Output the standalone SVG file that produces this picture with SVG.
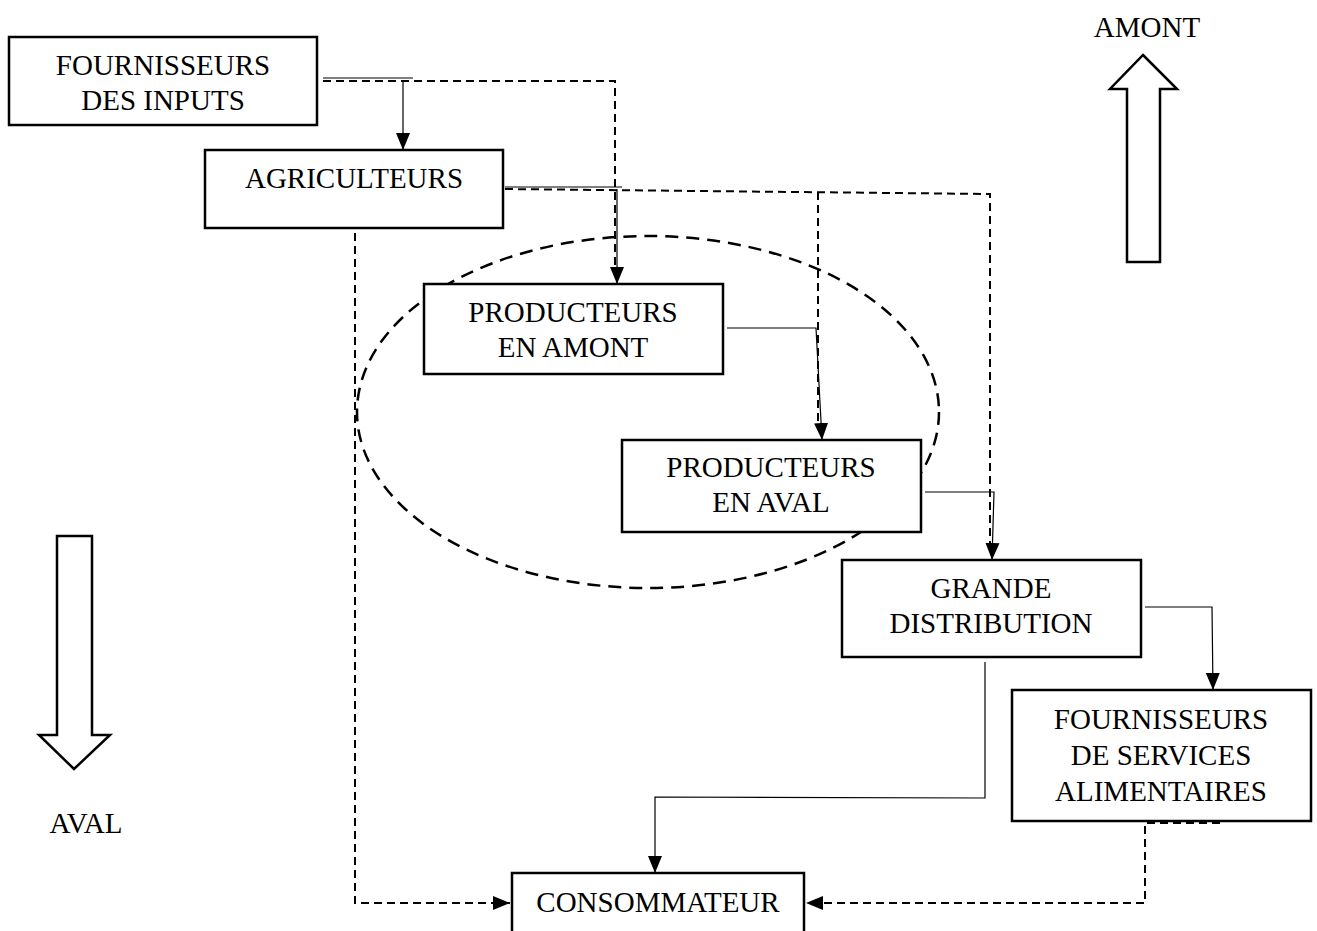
<svg xmlns="http://www.w3.org/2000/svg" width="1317" height="931" viewBox="0 0 1317 931">
<style>
.box{fill:#fff;stroke:#000;stroke-width:2.5}
.t{font-family:"Liberation Serif","Times New Roman",serif;font-size:29px;fill:#000;text-anchor:middle}
.s{fill:none;stroke:#000;stroke-width:1.2}
.d{fill:none;stroke:#000;stroke-width:2;stroke-dasharray:8 5}
.big{fill:#fff;stroke:#000;stroke-width:2.5;stroke-linejoin:miter}
</style>
<defs>
<marker id="ah" markerUnits="userSpaceOnUse" markerWidth="18" markerHeight="18" viewBox="0 0 18 18" refX="17" refY="9" orient="auto">
<path d="M0,2 L17,9 L0,16 Z" fill="#000"/>
</marker>
</defs>
<rect width="1317" height="931" fill="#fff"/>
<g id="ellipse">
<ellipse cx="648" cy="412" rx="291" ry="176" fill="none" stroke="#000" stroke-width="2.5" stroke-dasharray="13 8"/>
</g>
<g id="connectors">
<path class="s" d="M323,78 H413"/>
<path class="s" d="M403,80 V150" marker-end="url(#ah)"/>
<path class="d" d="M323,81 H615 V276"/>
<path class="s" d="M505,187 H622"/>
<path class="s" d="M617,189 V284" marker-end="url(#ah)"/>
<path class="d" d="M505,189 L990,194 V552"/>
<path class="d" d="M818,192 V430"/>
<path class="s" d="M727,328 H816 L822,440" marker-end="url(#ah)"/>
<path class="s" d="M925,492 H994 L992,560" marker-end="url(#ah)"/>
<path class="s" d="M1145,607 H1212 L1213,690" marker-end="url(#ah)"/>
<path class="s" d="M985,662 V798 L655,797 V873" marker-end="url(#ah)"/>
<path class="d" d="M355,233 V903 H510" marker-end="url(#ah)"/>
<path class="d" d="M1147,823 H1220"/>
<path class="d" d="M1145,826 V903 H806" marker-end="url(#ah)"/>
</g>
<g id="fournisseurs-inputs">
<rect class="box" x="9" y="37" width="308" height="88"/>
<text class="t" x="163" y="75">FOURNISSEURS</text>
<text class="t" x="163" y="110">DES INPUTS</text>
</g>
<g id="agriculteurs">
<rect class="box" x="205" y="150" width="298" height="78"/>
<text class="t" x="354" y="188">AGRICULTEURS</text>
</g>
<g id="producteurs-amont">
<rect class="box" x="424" y="284" width="299" height="90"/>
<text class="t" x="573" y="322">PRODUCTEURS</text>
<text class="t" x="573" y="357">EN AMONT</text>
</g>
<g id="producteurs-aval">
<rect class="box" x="622" y="440" width="299" height="92"/>
<text class="t" x="771" y="477">PRODUCTEURS</text>
<text class="t" x="771" y="512">EN AVAL</text>
</g>
<g id="grande-distribution">
<rect class="box" x="842" y="560" width="299" height="97"/>
<text class="t" x="991" y="598">GRANDE</text>
<text class="t" x="991" y="633">DISTRIBUTION</text>
</g>
<g id="fournisseurs-services">
<rect class="box" x="1012" y="690" width="299" height="131"/>
<text class="t" x="1161" y="729">FOURNISSEURS</text>
<text class="t" x="1161" y="765">DE SERVICES</text>
<text class="t" x="1161" y="801">ALIMENTAIRES</text>
</g>
<g id="consommateur">
<rect class="box" x="512" y="873" width="292" height="70"/>
<text class="t" x="658" y="912">CONSOMMATEUR</text>
</g>
<g id="amont">
<polygon class="big" points="1143,55 1177,89 1160,89 1160,262 1127,262 1127,89 1110,89"/>
<text class="t" x="1147" y="37">AMONT</text>
</g>
<g id="aval">
<polygon class="big" points="57,536 92,536 92,735 110,735 74,769 39,735 57,735"/>
<text class="t" x="86" y="833">AVAL</text>
</g>
</svg>
